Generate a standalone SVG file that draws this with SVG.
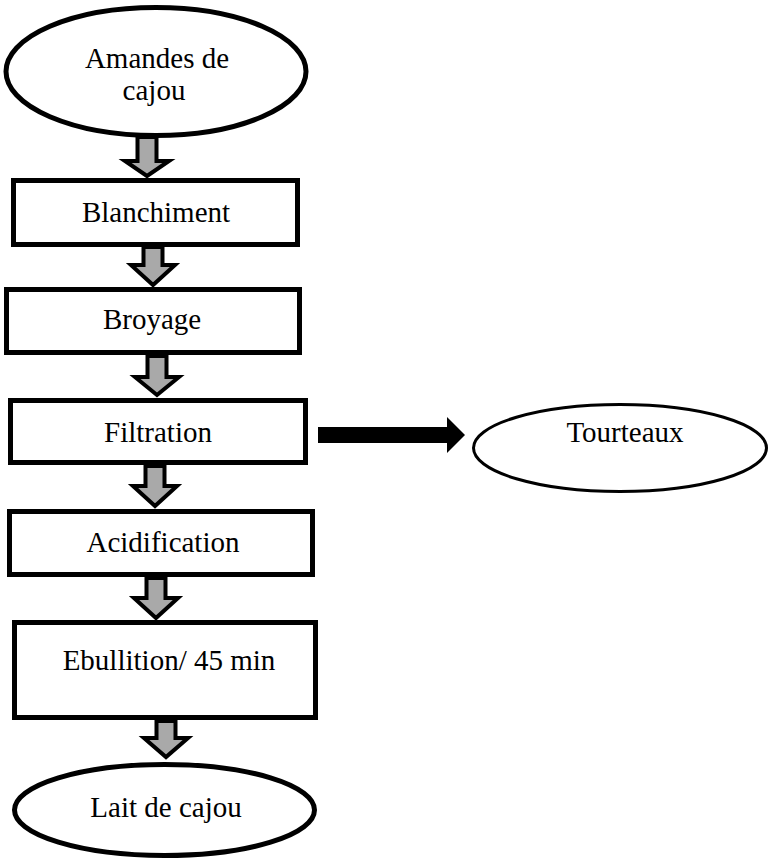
<svg xmlns="http://www.w3.org/2000/svg" width="769" height="860" viewBox="0 0 769 860">
<style>
.box{fill:#fff;stroke:#000;stroke-width:5}
.oval{fill:#fff;stroke:#000;stroke-width:5}
.oval2{fill:#fff;stroke:#000;stroke-width:3}
.darr{fill:#a9a9a9;stroke:#000;stroke-width:4;stroke-linejoin:miter}
text{font-family:"Liberation Serif","Times New Roman",serif;font-size:29px;fill:#000;text-anchor:middle}
</style>
<rect width="769" height="860" fill="#fff"/>
<g id="n-amandes"><ellipse class="oval" cx="156" cy="71.5" rx="150" ry="64"/><text x="157" y="68">Amandes de</text><text x="154" y="100">cajou</text></g>
<g id="n-blanchiment"><rect class="box" x="13.5" y="180.5" width="284" height="64"/><text x="156" y="222">Blanchiment</text></g>
<g id="n-broyage"><rect class="box" x="6.5" y="289.5" width="293" height="63"/><text x="152" y="329">Broyage</text></g>
<g id="n-filtration"><rect class="box" x="10.5" y="400.5" width="295" height="62"/><text x="158" y="442">Filtration</text></g>
<g id="n-tourteaux"><ellipse class="oval2" cx="620" cy="448" rx="146.5" ry="43.5"/><text x="625" y="442">Tourteaux</text></g>
<g id="n-acidification"><rect class="box" x="9.5" y="511.5" width="303" height="63"/><text x="163" y="552">Acidification</text></g>
<g id="n-ebullition"><rect class="box" x="14.5" y="622.5" width="301" height="95"/><text x="169" y="670">Ebullition/ 45 min</text></g>
<g id="n-lait"><ellipse class="oval" cx="164.5" cy="810" rx="150" ry="45.5"/><text x="166" y="817">Lait de cajou</text></g>
<g id="connectors">
<path class="darr" d="M137.5,137 V161 H125 L147,176 L169,161 H156.5 V137 Z"/>
<path class="darr" d="M143.5,247 V265 H131 L153,285 L175,265 H162.5 V247 Z"/>
<path class="darr" d="M147.5,356 V377 H135 L157,395 L179,377 H166.5 V356 Z"/>
<path class="darr" d="M145.5,466 V486 H133 L155,506 L177,486 H164.5 V466 Z"/>
<path class="darr" d="M146.5,578 V598 H134 L156,618 L178,598 H165.5 V578 Z"/>
<path class="darr" d="M156.5,721 V738 H144 L166,757 L188,738 H175.5 V721 Z"/>
<path d="M318,427 H447 V417 L465,435 L447,453 V443 H318 Z" fill="#000"/>
</g>
</svg>
